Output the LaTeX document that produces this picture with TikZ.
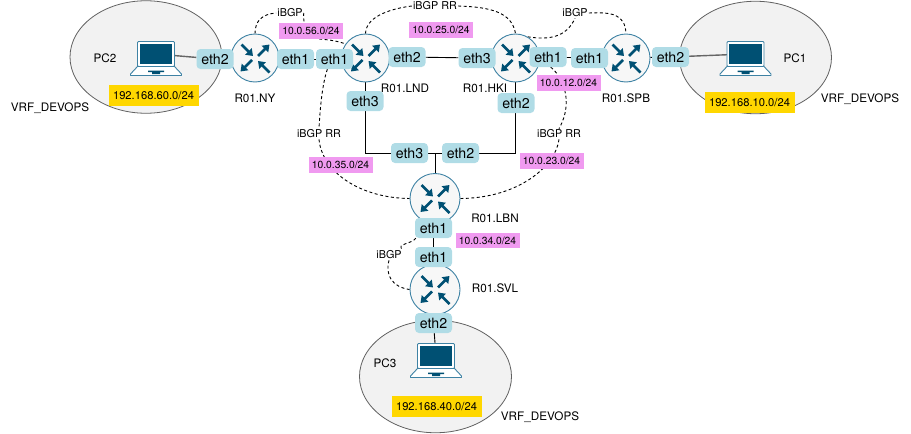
\documentclass[tikz,border=0pt]{standalone}
\usepackage{fontspec}
\setmainfont{TeX Gyre Heros}
\usetikzlibrary{shapes.geometric,arrows.meta}
\definecolor{navy}{HTML}{005073}
\definecolor{rim}{HTML}{3E82A4}
\definecolor{ethfill}{HTML}{B0DCE6}
\definecolor{netpink}{HTML}{F09AF0}
\definecolor{netgold}{HTML}{FFD700}
\definecolor{cloudfill}{HTML}{F2F2F2}
\pgfdeclarelayer{clouds}
\pgfdeclarelayer{wires}
\pgfdeclarelayer{gear}
\pgfsetlayers{clouds,wires,gear,main}
\tikzset{
  cloud/.style={ellipse,draw=black!62,line width=.8pt,fill=cloudfill,minimum width=152pt,minimum height=112.5pt,inner sep=0pt},
  router/.style={circle,draw=rim,line width=.9pt,fill=white!97!black,minimum size=48pt,inner sep=0pt},
  ethbox/.style={rectangle,rounded corners=4pt,fill=ethfill,minimum width=37pt,minimum height=20pt,inner sep=0pt,font=\fontsize{14.2}{16}\selectfont},
  subnet/.style={rectangle,fill=netpink,minimum width=64pt,minimum height=15.5pt,inner sep=0pt,font=\fontsize{10.3}{12}\selectfont},
  lan/.style={rectangle,fill=netgold,minimum width=90pt,minimum height=21pt,inner sep=0pt,font=\fontsize{11.2}{13}\selectfont},
  lbl/.style={inner sep=0pt,font=\fontsize{11.7}{13}\selectfont},
  peer/.style={inner sep=1pt,font=\fontsize{10.8}{12}\selectfont},
  link/.style={draw=black,line width=.9pt},
  pclink/.style={draw=black!60,line width=1.4pt},
  session/.style={draw=black,line width=.9pt,dash pattern=on 3pt off 2.5pt},
  flow/.style={draw=navy,line width=2.7pt,-{Triangle[width=9pt,length=6.5pt]}},
  screen/.style={rectangle,minimum width=37pt,minimum height=25pt,inner sep=0pt},
}
\newcommand{\rarrows}[1]{%
  \begin{scope}[shift={(#1.center)}]
    \draw[flow] (-13.5,-13.5) -- (-2,-2);
    \draw[flow] (3,-2) -- (14.5,-13.5);
    \draw[flow] (-3,2) -- (-14.5,13.5);
    \draw[flow] (14.5,14.5) -- (3,3);
  \end{scope}}
\newcommand{\laptopbody}[1]{%
  \begin{scope}[shift={(#1.center)}]
    \draw[rim,line width=.9pt,fill=white,line join=round] (-18.5,12.5) -- (-25.5,20) -- (-25.5,21.5) -- (25.5,21.5) -- (25.5,20) -- (18.5,12.5) -- cycle;
    \fill[navy] (-8,16.5) -- (8,16.5) -- (8,18) -- (4,18) -- (4,20) -- (-4,20) -- (-4,18) -- (-8,18) -- cycle;
    \draw[rim,line width=.9pt,fill=white,rounded corners=1pt] (-18.5,-12.5) rectangle (18.5,12.5);
    \fill[navy] (-16.3,-10.3) rectangle (16.3,10);
  \end{scope}}
\begin{document}
\begin{tikzpicture}[x=1pt,y=-1pt]
\useasboundingbox (0,0) rectangle (911,434);
% interface boxes
\node[ethbox] (nyB) at (215,59) {eth2};
\node[ethbox] (nyA) at (295.5,59) {eth1};
\node[ethbox] (lndA) at (334.5,59) {eth1};
\node[ethbox] (lndB) at (407,57) {eth2};
\node[ethbox] (lndC) at (365,101) {eth3};
\node[ethbox] (hkiC) at (477,58) {eth3};
\node[ethbox] (hkiA) at (548,57) {eth1};
\node[ethbox] (hkiB) at (516,103) {eth2};
\node[ethbox] (spbA) at (589.5,58) {eth1};
\node[ethbox] (spbB) at (670.5,57) {eth2};
\node[ethbox] (lbnC) at (409.5,153) {eth3};
\node[ethbox] (lbnB) at (460.5,153) {eth2};
\node[ethbox] (lbnA) at (433.5,228) {eth1};
\node[ethbox] (svlA) at (433.5,257) {eth1};
\node[ethbox] (svlB) at (433.5,323) {eth2};
\coordinate (joint) at (435,153);
% subnets
\node[subnet] (s56) at (311,31) {10.0.56.0/24};
\node[subnet] (s25) at (441,30) {10.0.25.0/24};
\node[subnet] (s12) at (568.5,83) {10.0.12.0/24};
\node[subnet] (s35) at (340.5,165) {10.0.35.0/24};
\node[subnet] (s23) at (551.5,161) {10.0.23.0/24};
\node[subnet] (s34) at (487.5,240.5) {10.0.34.0/24};
\node[lan] (l60) at (153.5,95.5) {192.168.60.0/24};
\node[lan] (l10) at (749.5,102.5) {192.168.10.0/24};
\node[lan] (l40) at (436.5,406.5) {192.168.40.0/24};
% names
\node[lbl] (tNY) at (255,98) {R01.NY};
\node[lbl] (tLND) at (405,88) {R01.LND};
\node[lbl] (tHKI) at (485,88) {R01.HKI};
\node[lbl] (tSPB) at (626,98) {R01.SPB};
\node[lbl] (tLBN) at (495,218) {R01.LBN};
\node[lbl] (tSVL) at (495,288) {R01.SVL};
\node[lbl] (tPC2) at (105,58) {PC2};
\node[lbl] (tPC1) at (795,58) {PC1};
\node[lbl] (tPC3) at (385,363) {PC3};
\node[lbl] (vB) at (50,108) {VRF\_DEVOPS};
\node[lbl] (vA) at (860,99) {VRF\_DEVOPS};
\node[lbl] (vC) at (540,417) {VRF\_DEVOPS};
% peering labels
\node[peer] (pNY) at (290,13) {iBGP};
\node[peer] (pTop) at (435,6) {iBGP RR};
\node[peer] (pSPB) at (575,13) {iBGP};
\node[peer] (pL) at (319,134) {iBGP RR};
\node[peer] (pR) at (559,134) {iBGP RR};
\node[peer] (pS) at (389,255) {iBGP};
\begin{pgfonlayer}{clouds}
\node[cloud] (cloudB) at (146,57) {};
\node[cloud] (cloudA) at (755.5,57.5) {};
\node[cloud] (cloudC) at (435.5,376.5) {};
\end{pgfonlayer}
\begin{pgfonlayer}{gear}
\node[router] (ny) at (255,58) {};
\node[router] (lnd) at (365.5,58) {};
\node[router] (hki) at (515.5,58) {};
\node[router] (spb) at (626,58) {};
\node[router,minimum size=50pt] (lbn) at (435,198.5) {};
\node[router,minimum size=50pt] (svl) at (435,289.5) {};
\rarrows{ny}\rarrows{lnd}\rarrows{hki}\rarrows{spb}\rarrows{lbn}\rarrows{svl}
\node[screen] (pcB) at (156,54) {};
\node[screen] (pcA) at (745.5,54) {};
\node[screen] (pcC) at (436,356) {};
\laptopbody{pcB}\laptopbody{pcA}\laptopbody{pcC}
\end{pgfonlayer}
\begin{pgfonlayer}{wires}
\draw[pclink] (pcB) -- (nyB);
\draw[pclink] (pcA) -- (spbB);
\draw[link] (pcC) -- (svlB);
\draw[link] (nyA) -- (lndA);
\draw[link] (lndB) -- (hkiC);
\draw[link] (hkiA) -- (spbA);
\draw[link] (spb) -- (spbB);
\draw[link] (lnd) -- (lnd |- lbnC) -- (lbnC);
\draw[link] (hki) -- (hki |- lbnB) -- (lbnB);
\draw[link] (lbnC) -- (lbnB);
\draw[link] (joint) -- (lbn);
\draw[link] (lbnA) -- (svlA);
\draw[session] (ny.90) .. controls (255,21) and (262,14) .. (pNY.west);
\draw[session] (pNY.east) .. controls (303,16) and (303,36) .. (320,39) .. controls (330,40) and (338,41) .. (lnd.145);
\draw[session] (lnd.90) .. controls (366,15) and (395,8) .. (pTop.west);
\draw[session] (pTop.east) .. controls (490,7) and (512,12) .. (hki.90);
\draw[session] (hki.60) .. controls (548,40) and (566,38) .. (pSPB.south);
\draw[session] (pSPB.east) .. controls (612,12) and (625,14) .. (spb.90);
\draw[session] (lndA.-125) .. controls (322,85) and (320,110) .. (pL.north);
\draw[session] (pL.south) .. controls (322,172) and (360,198) .. (lbn.180);
\draw[session] (hkiA.-75) .. controls (561,75) and (575,100) .. (pR.north);
\draw[session] (pR.south) .. controls (556,165) and (520,198) .. (lbn.0);
\draw[session] (lbnA.-150) .. controls (412,244) and (395,244) .. (pS.north east);
\draw[session] (pS.south) .. controls (385,275) and (392,287) .. (svl.180);
\end{pgfonlayer}
\end{tikzpicture}
\end{document}
